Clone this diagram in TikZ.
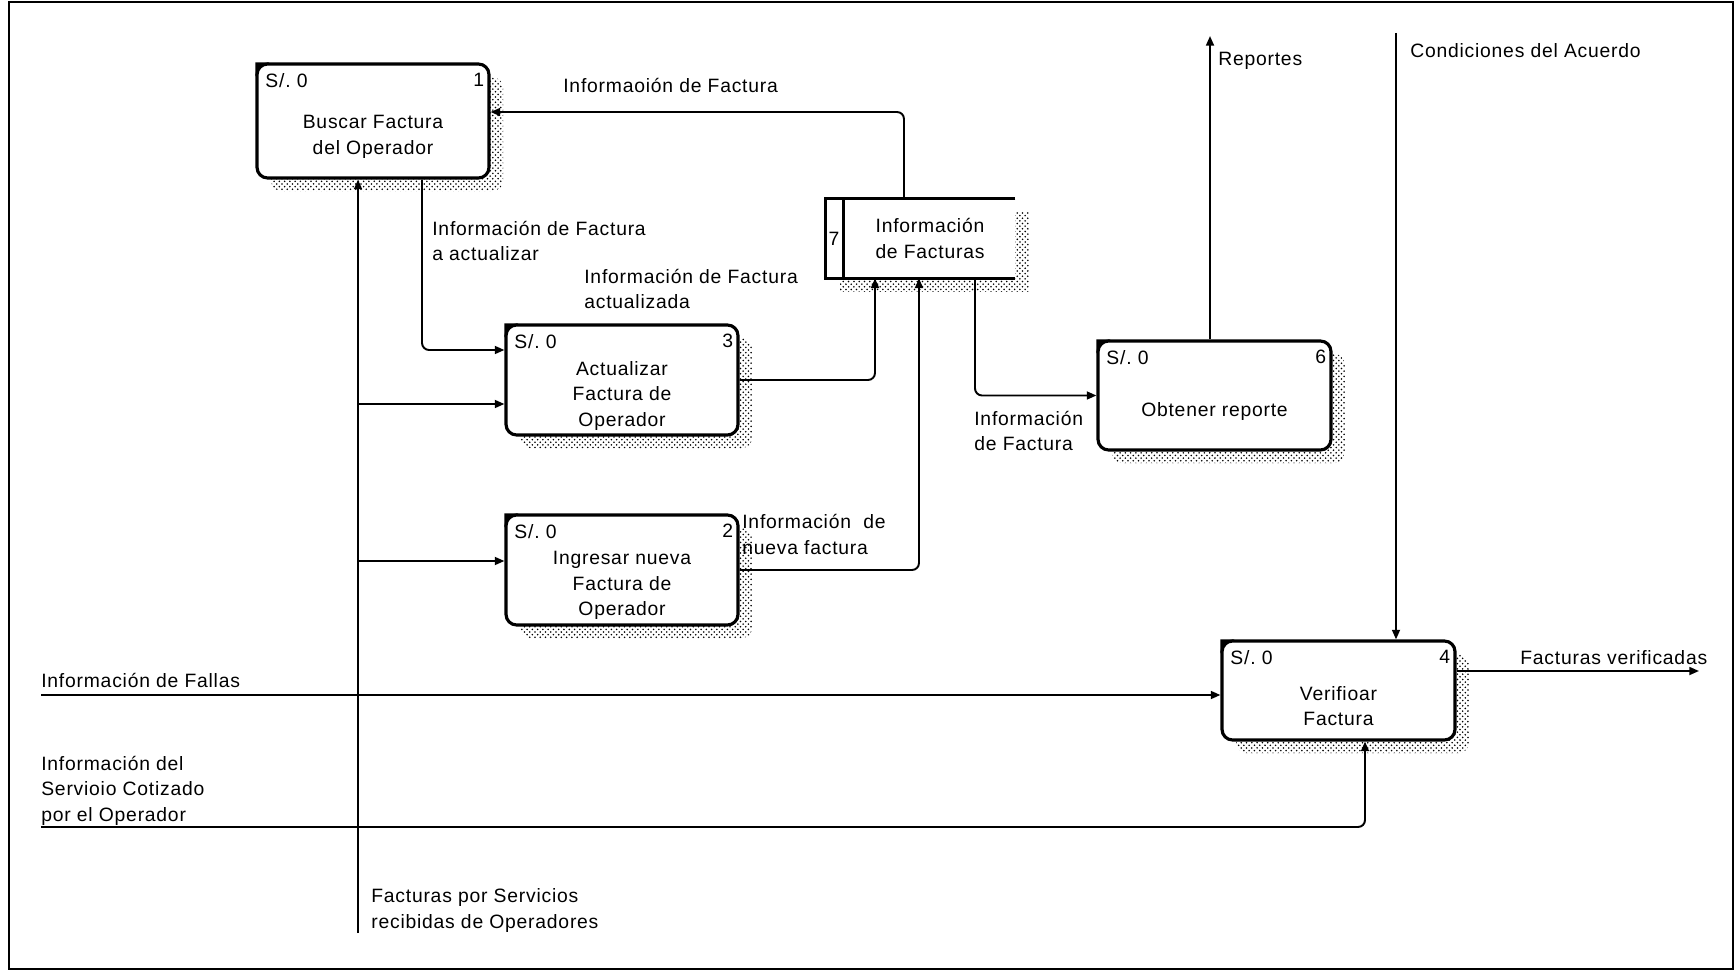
\documentclass[tikz,border=0pt]{standalone}
\usepackage{fontspec}
\setmainfont{Liberation Sans}[LetterSpace=4]
\usetikzlibrary{positioning, arrows.meta, calc, patterns}

\begin{document}
\begin{tikzpicture}[x=0.02cm, y=-0.02cm,
	font=\fontsize{11}{14.5}\selectfont,
	>={Triangle[length=5.5pt, width=4.5pt]},
	sombra/.style={preaction={draw=none, pattern=crosshatch dots, pattern color=black,
		transform canvas={xshift=8pt, yshift=-7.5pt}}},
	proceso/.style={draw, line width=1.8pt, rounded corners=6pt, fill=white, sombra,
		minimum width=4.64cm, minimum height=2.2cm, label={[sol]north west:S/.\ 0}},
	sol/.style={anchor=north west, inner sep=0pt, xshift=5.5pt, yshift=-6pt},
	num/.style={anchor=north east, inner sep=0pt, xshift=-3.5pt, yshift=-6pt},
	titulo/.style={align=center, yshift=-9pt},
	flujo/.style={->, line width=1.1pt, rounded corners=4pt},
	etiqueta/.style={anchor=base west, align=left, inner sep=0pt}]

	\useasboundingbox (0,0) rectangle (1736,972);

	% --- 0. MARCO ---
	\draw[line width=1.2pt] (9,2) rectangle (1733,969);

	% --- 1. PROCESOS ---
	\node[proceso, minimum height=2.28cm, label={[num]north east:1},
		label={[titulo]center:{Buscar Factura\\del Operador}}] (buscar) at (373,121) {};
	\node[proceso, label={[num]north east:3},
		label={[titulo]center:{Actualizar\\Factura de\\Operador}}] (actualizar) at (622,380) {};
	\node[proceso, label={[num]north east:2},
		label={[titulo]center:{Ingresar nueva\\Factura de\\Operador}}] (ingresar) at (622,570) {};
	\node[proceso, minimum width=4.66cm, minimum height=2.18cm, label={[num]north east:6},
		label={[titulo]center:Obtener reporte}] (reporte) at (1214.5,395.5) {};
	\node[proceso, minimum width=4.66cm, minimum height=1.98cm, label={[num]north east:4},
		label={[titulo]center:{Verifioar\\Factura}}] (verificar) at (1338.5,690.5) {};

	% esquina negra de cada proceso
	\foreach \n in {buscar, actualizar, ingresar, reporte, verificar}
		\fill ($(\n.north west)+(0,14)$) -- (\n.north west) -- ($(\n.north west)+(14,0)$)
			.. controls ($(\n.north west)+(5,3)$) and ($(\n.north west)+(3,5)$) .. ($(\n.north west)+(0,14)$);

	% --- 2. ALMACEN DE DATOS (7) ---
	\node[minimum width=3.78cm, minimum height=1.58cm, fill=white, sombra, inner sep=0pt,
		label={[anchor=west, inner sep=0pt, xshift=1.5pt]west:7},
		label={[align=center, xshift=5.4pt]center:{Información\\de Facturas}}] (almacen) at (920.5,238.5) {};
	\draw[line width=1.8pt] (almacen.north east) -- (almacen.north west) -- (almacen.south west) -- (almacen.south east);
	\draw[line width=1.8pt] ($(almacen.north west)+(18,0)$) -- ($(almacen.south west)+(18,0)$);

	% --- 3. FLUJOS INTERNOS ---
	\draw[flujo] ($(almacen.north)+(-16.5,0)$) |- ($(buscar.east)+(0,-9)$);
	\draw[flujo] ($(buscar.south)+(49,0)$) |- ($(actualizar.west)+(0,-30)$);
	\draw[flujo] (actualizar.east) -| ($(almacen.south)+(-45.5,0)$);
	\draw[flujo] (ingresar.east) -| ($(almacen.south)+(-1.5,0)$);
	\draw[flujo] ($(almacen.south)+(54.5,0)$) |- (reporte.west);

	% --- 4. ENTRADAS Y SALIDAS ---
	\coordinate (entrada) at (358,933);
	\coordinate (ramaAct) at (358,404);
	\coordinate (ramaIng) at (358,561);
	\coordinate (salidaRep) at (1210,36);
	\coordinate (condiciones) at (1396,33);
	\coordinate (fallas) at (41,695);
	\coordinate (servicio) at (41,827);
	\coordinate (salidaVer) at (1699,671);

	\draw[flujo] (entrada) -- (entrada |- buscar.south);
	\draw[flujo] (ramaAct) -- (ramaAct -| actualizar.west);
	\draw[flujo] (ramaIng) -- (ramaIng -| ingresar.west);
	\draw[flujo] (salidaRep |- reporte.north) -- (salidaRep);
	\draw[flujo] (condiciones) -- (condiciones |- verificar.north);
	\draw[flujo] (fallas) -- (fallas -| verificar.west);
	\draw[flujo] (servicio) -| ($(verificar.south)+(26.5,0)$);
	\draw[flujo] (verificar.east |- salidaVer) -- (salidaVer);

	% --- 5. ETIQUETAS DE LOS FLUJOS (base = ultima linea) ---
	\node[etiqueta] (lblInfoFac) at (563,93) {Informaoión de Factura};
	\node[etiqueta] (lblActualizar) at (432,261) {Información de Factura\\a actualizar};
	\node[etiqueta] (lblActualizada) at (584,309) {Información de Factura\\actualizada};
	\node[etiqueta] (lblNueva) at (742,554) {Información\ \ de\\nueva factura};
	\node[etiqueta] (lblInfoRep) at (974,451) {Información\\de Factura};
	\node[etiqueta] (lblReportes) at (1218,66) {Reportes};
	\node[etiqueta] (lblCondiciones) at (1410,58) {Condiciones del Acuerdo};
	\node[etiqueta] (lblFallas) at (41,687) {Información de Fallas};
	\node[etiqueta] (lblServicio) at (41,821) {Información del\\Servioio Cotizado\\por el Operador};
	\node[etiqueta] (lblVerificadas) at (1520,664) {Facturas verificadas};
	\node[etiqueta] (lblEntrada) at (371,928) {Facturas por Servicios\\recibidas de Operadores};

\end{tikzpicture}
\end{document}
